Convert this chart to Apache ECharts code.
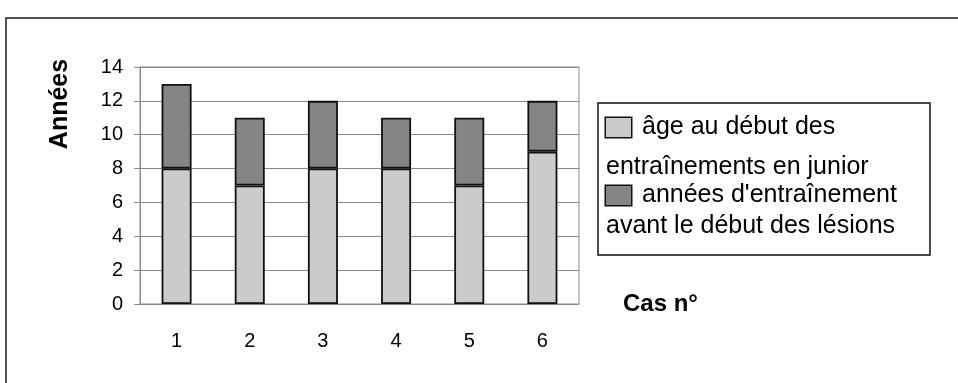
<!DOCTYPE html>
<html>
<head>
<meta charset="utf-8">
<script src="https://cdn.jsdelivr.net/npm/echarts@6/dist/echarts.min.js"></script>
<style>
  html, body { margin: 0; padding: 0; background: #fff; }
  #chart { width: 958px; height: 383px; }
</style>
</head>
<body>
<div id="chart"></div>
<script>
// Cases and stacked values (years)
const cases = ['1', '2', '3', '4', '5', '6'];
const ageDebut = [8, 7, 8, 8, 7, 9];
const anneesEntrainement = [5, 4, 4, 3, 4, 3];
const yTicks = { min: 0, max: 14, interval: 2 };

const seriesNames = [
  'âge au début des entraînements en junior',
  "années d'entraînement avant le début des lésions"
];
const lightGrey = '#cbcbcb';
const darkGrey = '#858585';
const FONT = '"Liberation Sans", Arial, sans-serif';

const chart = echarts.init(document.getElementById('chart'), null, { renderer: 'canvas' });

chart.setOption({
  backgroundColor: '#fff',
  animation: false,
  textStyle: { fontFamily: FONT, color: '#000' },
  grid: {
    left: 140, right: 379, top: 67, bottom: 79,
    show: true, borderColor: '#8a8a8a', borderWidth: 1, backgroundColor: '#fff'
  },
  xAxis: {
    type: 'category',
    data: cases,
    name: 'Cas n°',
    nameLocation: 'end',
    nameGap: 44,
    nameTextStyle: { fontFamily: FONT, fontWeight: 'bold', fontSize: 24, color: '#000' },
    axisLine: { lineStyle: { color: '#8a8a8a', width: 1 } },
    axisTick: { show: false },
    axisLabel: { fontSize: 20, margin: 27, color: '#000', fontFamily: FONT }
  },
  yAxis: {
    type: 'value',
    min: yTicks.min, max: yTicks.max, interval: yTicks.interval,
    axisLine: { show: true, lineStyle: { color: '#8a8a8a', width: 1 } },
    axisTick: { show: true, length: 6, lineStyle: { color: '#8a8a8a' } },
    axisLabel: { fontSize: 20, margin: 17, color: '#000', fontFamily: FONT },
    splitLine: { lineStyle: { color: '#8a8a8a', width: 1 } }
  },
  legend: {
    orient: 'vertical',
    left: 598, top: 103,
    itemWidth: 0, itemHeight: 0, itemGap: 3,
    padding: [12, 33, 16, 2],
    borderColor: '#111', borderWidth: 1.5, backgroundColor: '#fff',
    selectedMode: false,
    data: seriesNames,
    formatter: function (name) {
      if (name === seriesNames[0]) {
        return '{sq1|}{t1|âge au début des}\n{t1b|entraînements en junior}';
      }
      return "{sq2|}{t2|années d'entraînement}\n{t2b|avant le début des lésions}";
    },
    textStyle: {
      fontFamily: FONT, fontSize: 25, color: '#000',
      rich: {
        sq1: { width: 25, height: 19, lineHeight: 40, backgroundColor: lightGrey, borderColor: '#111', borderWidth: 1.5 },
        t1: { fontFamily: FONT, fontSize: 25, lineHeight: 40, padding: [0, 0, 0, 11] },
        t1b: { fontFamily: FONT, fontSize: 25, lineHeight: 40 },
        sq2: { width: 25, height: 19, lineHeight: 20, backgroundColor: darkGrey, borderColor: '#111', borderWidth: 1.5 },
        t2: { fontFamily: FONT, fontSize: 25, lineHeight: 20, padding: [0, 0, 0, 11] },
        t2b: { fontFamily: FONT, fontSize: 25, lineHeight: 42 }
      }
    }
  },
  graphic: [
    {
      type: 'rect', silent: true, z: -1,
      shape: { x: 6, y: 18, width: 1000, height: 420 },
      style: { fill: 'none', stroke: '#1a1a1a', lineWidth: 1.5 }
    },
    {
      type: 'text', x: 60, y: 104, rotation: Math.PI / 2,
      style: {
        text: 'Années', fill: '#000',
        font: 'bold 25px "Liberation Sans", Arial, sans-serif',
        textAlign: 'center', textVerticalAlign: 'middle'
      }
    }
  ],
  series: [
    {
      name: seriesNames[0], type: 'bar', stack: 'total', barWidth: 30,
      data: ageDebut,
      itemStyle: { color: lightGrey, borderColor: '#111', borderWidth: 1.8 }
    },
    {
      name: seriesNames[1], type: 'bar', stack: 'total', barWidth: 30,
      data: anneesEntrainement,
      itemStyle: { color: darkGrey, borderColor: '#111', borderWidth: 1.8 }
    }
  ]
});
</script>
</body>
</html>
